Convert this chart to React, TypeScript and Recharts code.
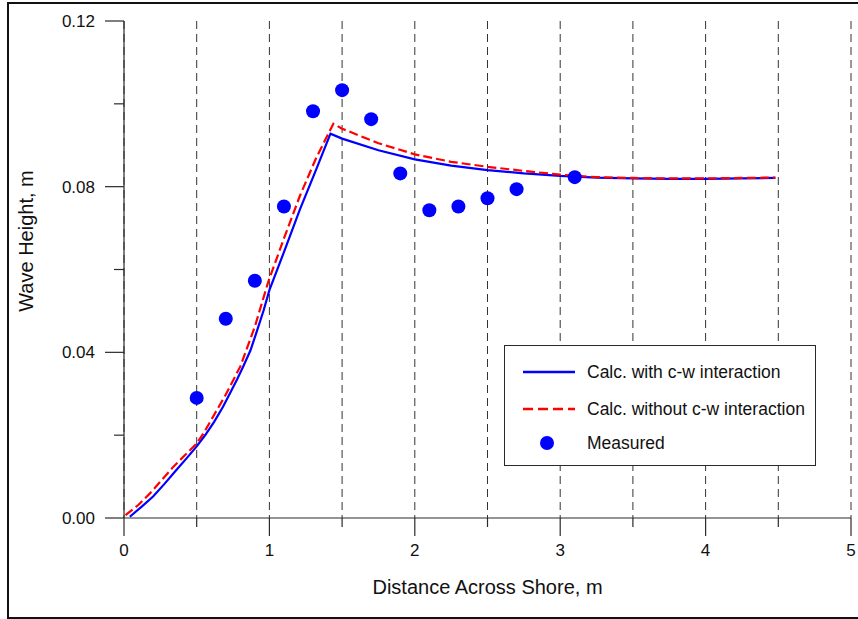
import React from 'react';
import { ComposedChart, Line, Scatter, XAxis, YAxis, CartesianGrid, Label } from 'recharts';

// calculated wave height, with current-wave interaction
const withCwX = [0.04, 0.12, 0.2, 0.28, 0.36, 0.43, 0.5, 0.56, 0.62, 0.68, 0.73, 0.78, 0.82, 0.87, 0.91, 0.96, 1.0, 1.1, 1.21, 1.32, 1.42, 1.5, 1.75, 2.0, 2.25, 2.5, 2.75, 3.0, 3.25, 3.5, 3.75, 4.0, 4.25, 4.48];
const withCwY = [0.0003, 0.0027, 0.0052, 0.0083, 0.0116, 0.0144, 0.0173, 0.0201, 0.0232, 0.0268, 0.0302, 0.0336, 0.0366, 0.0405, 0.0447, 0.0501, 0.055, 0.0642, 0.0745, 0.084, 0.0928, 0.0916, 0.0888, 0.0866, 0.0851, 0.084, 0.0832, 0.0826, 0.0822, 0.082, 0.0819, 0.0819, 0.082, 0.0821];

// calculated wave height, without interaction
const withoutCwX = [0.01, 0.1, 0.18, 0.26, 0.34, 0.42, 0.5, 0.55, 0.6, 0.7, 0.8, 0.9, 0.99, 1.1, 1.21, 1.32, 1.44, 1.5, 1.75, 2.0, 2.25, 2.5, 2.75, 3.0, 3.25, 3.5, 3.75, 4.0, 4.25, 4.48];
const withoutCwY = [0.0007, 0.0032, 0.006, 0.0092, 0.0124, 0.0152, 0.018, 0.0206, 0.0237, 0.0298, 0.0366, 0.0462, 0.0568, 0.0675, 0.0778, 0.0868, 0.0952, 0.094, 0.0905, 0.0878, 0.086, 0.0848, 0.0838, 0.0829, 0.0823, 0.0821, 0.082, 0.082, 0.0821, 0.0822];

// flume measurements
const measuredX = [0.5, 0.7, 0.9, 1.1, 1.3, 1.5, 1.7, 1.9, 2.1, 2.3, 2.5, 2.7, 3.1];
const measuredY = [0.029, 0.0481, 0.0573, 0.0752, 0.0982, 0.1033, 0.0963, 0.0832, 0.0743, 0.0752, 0.0772, 0.0794, 0.0823];

const xTicks = [0, 0.5, 1, 1.5, 2, 2.5, 3, 3.5, 4, 4.5, 5];
const yTicks = [0, 0.02, 0.04, 0.06, 0.08, 0.1, 0.12];

const seriesNames = ['Calc. with c-w interaction', 'Calc. without c-w interaction', 'Measured'];

const zip = (xs: number[], ys: number[]) => xs.map((x, i) => ({ x, y: ys[i] }));
const withCw = zip(withCwX, withCwY);
const withoutCw = zip(withoutCwX, withoutCwY);
const measured = zip(measuredX, measuredY);

const FONT = '"Liberation Sans", Arial, Helvetica, sans-serif';
const AXIS = '#2a2a2a';
const BLUE = '#0000ff';
const RED = '#ff0000';

const YTick = (props: any) => {
  const { x, y, payload, index } = props;
  const major = index % 2 === 0;
  return (
    <g>
      <line x1={x - (major ? 19 : 10)} y1={y} x2={x} y2={y} stroke={AXIS} strokeWidth={1.2} />
      {major && (
        <text x={x - 29} y={y} dy="0.35em" textAnchor="end" fontSize={17} fontFamily={FONT} fill="#111">
          {payload.value.toFixed(2)}
        </text>
      )}
    </g>
  );
};

const XTick = (props: any) => {
  const { x, y, payload, index } = props;
  const major = index % 2 === 0;
  return (
    <g>
      <line x1={x} y1={y} x2={x} y2={y + (major ? 18 : 9)} stroke={AXIS} strokeWidth={1.2} />
      {major && (
        <text x={x} y={y + 38} textAnchor="middle" fontSize={17} fontFamily={FONT} fill="#111">
          {payload.value}
        </text>
      )}
    </g>
  );
};

const dot = (props: any) => <circle cx={props.cx} cy={props.cy} r={7} fill={BLUE} />;

const LegendBox = () => (
  <div
    style={{
      position: 'absolute',
      left: 504,
      top: 345,
      width: 312,
      height: 121,
      boxSizing: 'border-box',
      border: `1px solid ${AXIS}`,
      background: '#fff',
    }}
  >
    <svg width={310} height={119} style={{ display: 'block' }}>
      <line x1={18} y1={26} x2={70} y2={26} stroke={BLUE} strokeWidth={2.5} />
      <line x1={18} y1={63} x2={70} y2={63} stroke={RED} strokeWidth={2.5} strokeDasharray="10 5" />
      <circle cx={42} cy={97} r={7} fill={BLUE} />
      {seriesNames.map((name, i) => (
        <text key={name} x={82} y={[26, 63, 97][i]} dy="0.35em" fontSize={17.5} fontFamily={FONT} fill="#111">
          {name}
        </text>
      ))}
    </svg>
  </div>
);

export default function App() {
  return (
    <div style={{ position: 'absolute', left: 0, top: 0, width: 858, height: 619, background: '#fff', overflow: 'hidden' }}>
      <div
        style={{
          position: 'absolute',
          left: 7,
          top: 2,
          width: 860,
          height: 617,
          boxSizing: 'border-box',
          border: '2px solid #111',
        }}
      />
      <ComposedChart width={858} height={619} margin={{ top: 21, right: 7, bottom: 0, left: 0 }}>
        <CartesianGrid horizontal={false} stroke="#333" strokeDasharray="8 5" />
        <XAxis
          dataKey="x"
          type="number"
          domain={[0, 5]}
          ticks={xTicks}
          interval={0}
          height={101}
          tickSize={0}
          tickMargin={0}
          tick={<XTick />}
          tickLine={false}
          axisLine={{ stroke: AXIS, strokeWidth: 1.2 }}
        >
          <Label
            content={(p: any) => (
              <text
                x={p.viewBox.x + p.viewBox.width / 2}
                y={p.viewBox.y + 76}
                textAnchor="middle"
                fontSize={20}
                fontFamily={FONT}
                fill="#111"
              >
                Distance Across Shore, m
              </text>
            )}
          />
        </XAxis>
        <XAxis xAxisId="top" orientation="top" type="number" domain={[0, 5]} height={0} tick={false} tickLine={false} axisLine={{ stroke: AXIS, strokeWidth: 1.2 }} />
        <YAxis
          type="number"
          domain={[0, 0.12]}
          ticks={yTicks}
          interval={0}
          width={124}
          tickSize={0}
          tickMargin={0}
          tick={<YTick />}
          tickLine={false}
          axisLine={{ stroke: AXIS, strokeWidth: 1.2 }}
        >
          <Label
            content={() => (
              <text
                x={33}
                y={241}
                transform="rotate(-90, 33, 241)"
                textAnchor="middle"
                fontSize={20}
                fontFamily={FONT}
                fill="#111"
              >
                Wave Height, m
              </text>
            )}
          />
        </YAxis>
        <YAxis yAxisId="right" orientation="right" type="number" domain={[0, 0.12]} width={0} tick={false} tickLine={false} axisLine={{ stroke: AXIS, strokeWidth: 1.2 }} />
        <Line data={withCw} dataKey="y" type="linear" stroke={BLUE} strokeWidth={2.2} dot={false} isAnimationActive={false} />
        <Line data={withoutCw} dataKey="y" type="linear" stroke={RED} strokeWidth={2.2} strokeDasharray="9 4" dot={false} isAnimationActive={false} />
        <Scatter data={measured} dataKey="y" shape={dot} isAnimationActive={false} />
      </ComposedChart>
      <LegendBox />
    </div>
  );
}
